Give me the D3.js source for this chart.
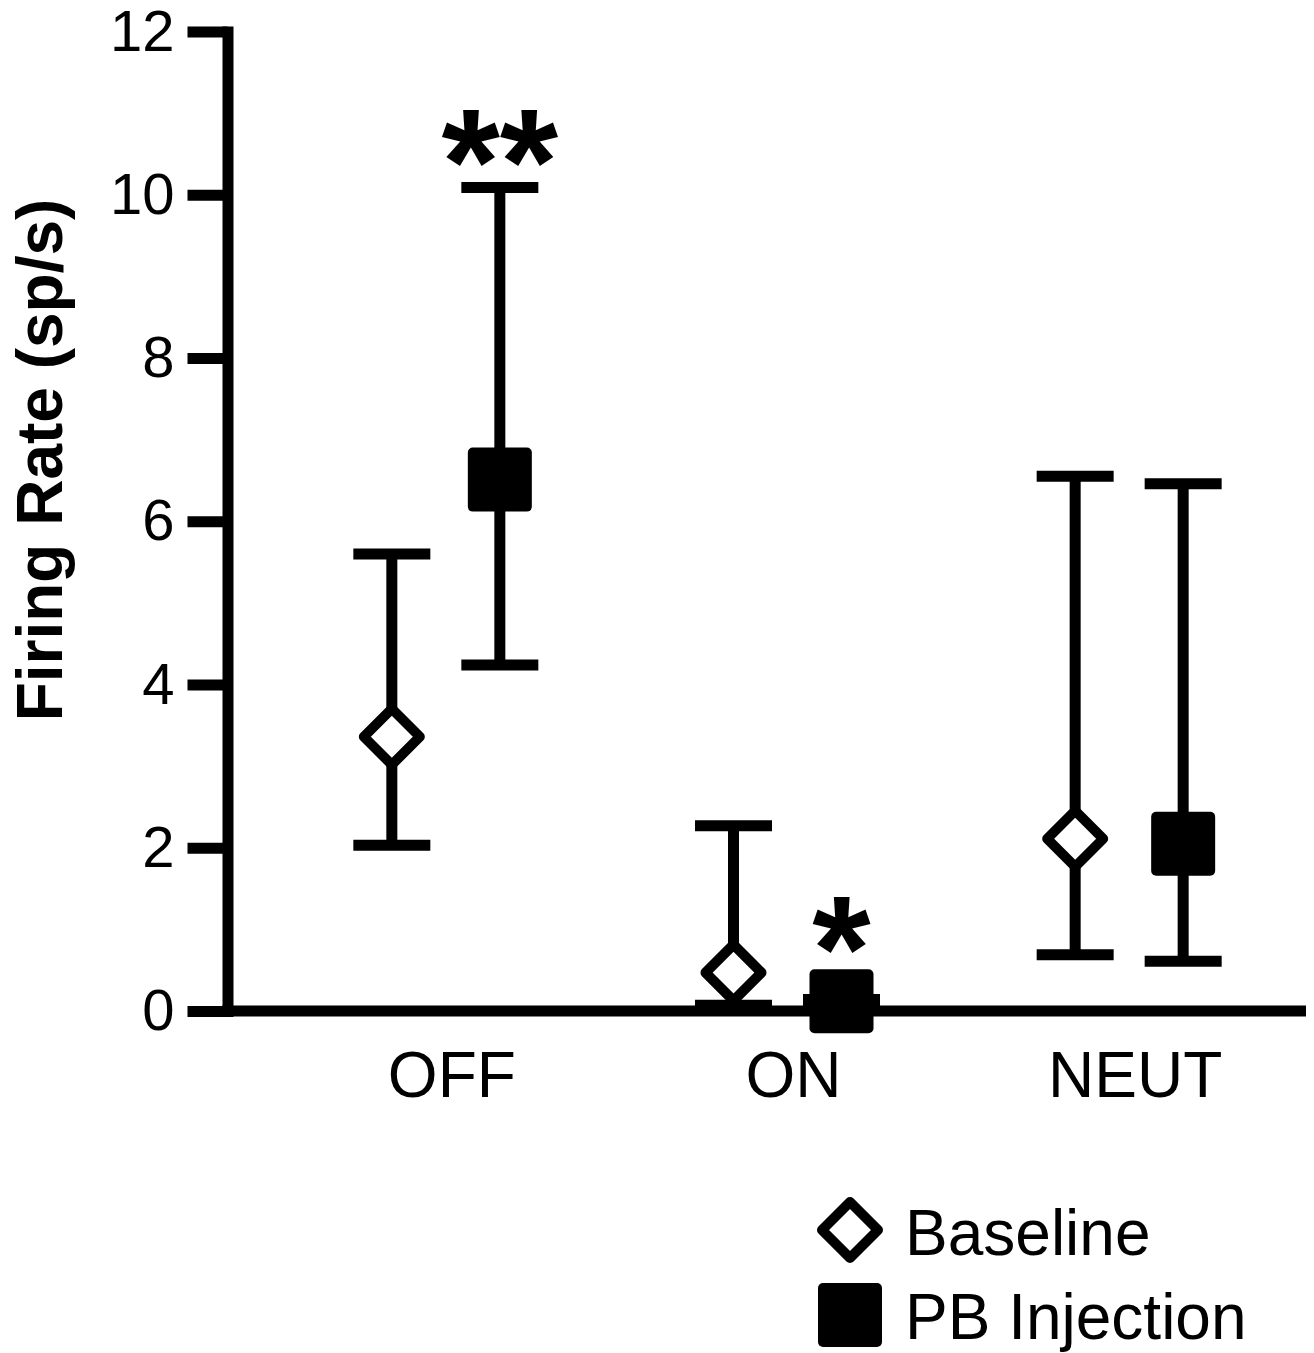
<!DOCTYPE html>
<html>
<head>
<meta charset="utf-8">
<script src="https://cdn.jsdelivr.net/npm/d3@7"></script>
<style>
  html, body { margin: 0; padding: 0; background: #fff; }
  svg { display: block; }
  text { font-family: "Liberation Sans", Arial, Helvetica, sans-serif; fill: #000; }
</style>
</head>
<body>
<script>
// ---- data ----
const categories = ["OFF", "ON", "NEUT"];
const seriesNames = ["Baseline", "PB Injection"];
const baselineMean  = [3.36, 0.47, 2.11];
const baselineUpper = [5.60, 2.27, 6.55];
const baselineLower = [2.03, 0.07, 0.69];
const pbMean  = [6.51, 0.12, 2.05];
const pbUpper = [10.09, 0.14, 6.46];
const pbLower = [4.24, 0.10, 0.61];
const significance = ["**", "*", ""];   // marks above PB Injection
const yTicks = [0, 2, 4, 6, 8, 10, 12];
const yLabel = "Firing Rate (sp/s)";

const W = 1314, H = 1353;
const svg = d3.select("body").append("svg").attr("width", W).attr("height", H);

const y = d3.scaleLinear().domain([0, 12]).range([1011, 31.5]);
const x = d3.scaleBand().domain(categories).range([275, 1300]).padding(0);
const xs = d3.scalePoint().domain(seriesNames).range([-54, 54]);

const LW = 11;
const FONT = "'Liberation Sans', Arial, sans-serif";

// ---- y axis ----
const yAxis = d3.axisLeft(y).tickValues(yTicks).tickFormat(d3.format("d"))
  .tickSizeInner(40).tickSizeOuter(0).tickPadding(13);
const gy = svg.append("g").attr("transform", "translate(227.5,0)").call(yAxis);
gy.select(".domain").attr("stroke", "#000").attr("stroke-width", LW).attr("stroke-linecap", "square");
gy.selectAll(".tick line").attr("stroke", "#000").attr("stroke-width", LW);
gy.selectAll(".tick text").attr("font-size", 58).attr("fill", "#000").style("font-family", FONT);

// ---- x axis ----
const xAxis = d3.axisBottom(x).tickSize(0).tickPadding(0);
const gx = svg.append("g").attr("transform", "translate(0,1011)").call(xAxis);
gx.select(".domain").remove();
gx.selectAll(".tick text").attr("font-size", 64).attr("y", 86).attr("dy", 0).attr("dx", 6)
  .attr("fill", "#000").style("font-family", FONT);
svg.append("line")
  .attr("x1", 222).attr("x2", 1306)
  .attr("y1", y(0)).attr("y2", y(0))
  .attr("stroke", "#000").attr("stroke-width", LW);

// ---- y label ----
svg.append("text")
  .attr("transform", "translate(62,460) rotate(-90)")
  .attr("text-anchor", "middle")
  .attr("font-size", 64).attr("font-weight", "bold")
  .text(yLabel);

// ---- series data ----
const data = [];
categories.forEach((c, i) => {
  data.push({cat: c, s: seriesNames[0], m: baselineMean[i], hi: baselineUpper[i], lo: baselineLower[i]});
  data.push({cat: c, s: seriesNames[1], m: pbMean[i], hi: pbUpper[i], lo: pbLower[i], sig: significance[i]});
});
const cx = d => x(d.cat) + x.bandwidth() / 2 + xs(d.s);
const CAP = 38.5;

const eb = svg.append("g").attr("stroke", "#000").attr("stroke-width", LW);
eb.selectAll(".stem").data(data).join("line")
  .attr("x1", cx).attr("x2", cx).attr("y1", d => y(d.hi)).attr("y2", d => y(d.lo));
eb.selectAll(".capHi").data(data).join("line")
  .attr("x1", d => cx(d) - CAP).attr("x2", d => cx(d) + CAP)
  .attr("y1", d => y(d.hi)).attr("y2", d => y(d.hi));
eb.selectAll(".capLo").data(data).join("line")
  .attr("x1", d => cx(d) - CAP).attr("x2", d => cx(d) + CAP)
  .attr("y1", d => y(d.lo)).attr("y2", d => y(d.lo));

// markers
const R = 28;
const diamondPath = `M0,${-R}L${R},0L0,${R}L${-R},0Z`;
svg.append("g").selectAll("path").data(data.filter(d => d.s === seriesNames[0])).join("path")
  .attr("d", diamondPath)
  .attr("transform", d => `translate(${cx(d)},${y(d.m)})`)
  .attr("fill", "#fff").attr("stroke", "#000").attr("stroke-width", 10).attr("stroke-linejoin", "round");
const S = 64;
svg.append("g").selectAll("rect").data(data.filter(d => d.s === seriesNames[1])).join("rect")
  .attr("x", d => cx(d) - S / 2).attr("y", d => y(d.m) - S / 2)
  .attr("width", S).attr("height", S).attr("rx", 5).attr("ry", 5)
  .attr("fill", "#000");

// significance stars: placed just above the topmost part of the PB mark
const topOf = d => Math.min(y(d.hi) - LW / 2, y(d.m) - S / 2);
svg.append("g").selectAll("text").data(data.filter(d => d.s === seriesNames[1] && d.sig)).join("text")
  .attr("x", cx)
  .attr("y", d => topOf(d) + 32)
  .attr("text-anchor", "middle")
  .attr("font-size", 150).attr("font-weight", "bold")
  .text(d => d.sig);

// ---- legend ----
const lg = svg.append("g");
lg.append("path").attr("d", diamondPath).attr("transform", "translate(850,1230)")
  .attr("fill", "#fff").attr("stroke", "#000").attr("stroke-width", 10).attr("stroke-linejoin", "round");
lg.append("rect").attr("x", 850 - S / 2).attr("y", 1315 - S / 2).attr("width", S).attr("height", S)
  .attr("rx", 5).attr("ry", 5).attr("fill", "#000");
lg.append("text").attr("x", 905).attr("y", 1255).attr("font-size", 64).text(seriesNames[0]);
lg.append("text").attr("x", 905).attr("y", 1339).attr("font-size", 64).text(seriesNames[1]);
</script>
</body>
</html>
